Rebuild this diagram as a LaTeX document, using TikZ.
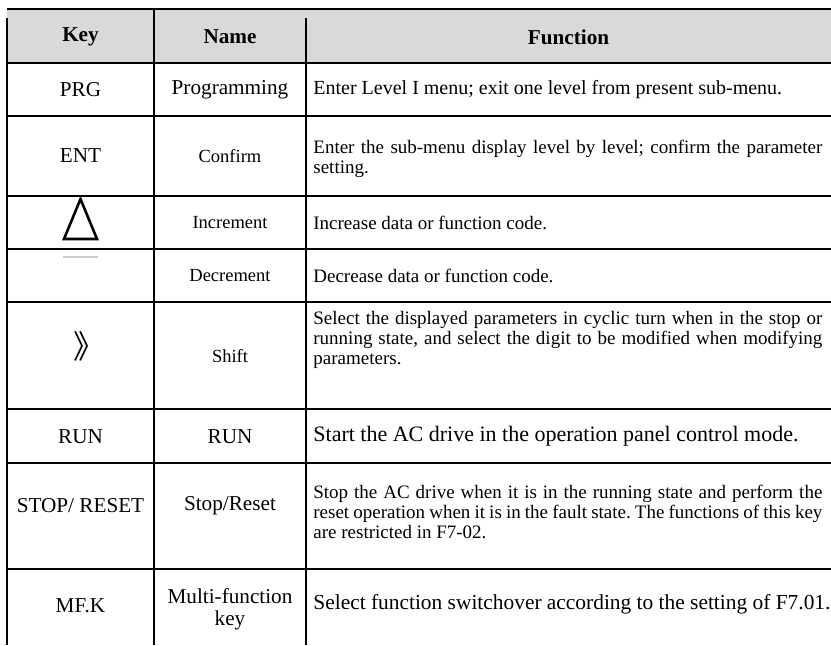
\documentclass[tikz,border=0pt]{standalone}
\usepackage{fontspec}
\setmainfont{Liberation Serif}
\newfontfamily\cjk{Noto Sans CJK SC}
\usepackage{tikz}
\frenchspacing
\hyphenpenalty=10000
\exhyphenpenalty=10000
\definecolor{headgray}{RGB}{217,217,217}
\tikzstyle{rule} = [line width=0.9pt, black]
\tikzstyle{head} = [inner sep=0pt, font=\fontsize{10.6}{11.5}\selectfont\bfseries]
\tikzstyle{cellbig} = [inner sep=0pt, align=center, font=\fontsize{10.6}{11}\selectfont]
\tikzstyle{cellsmall} = [inner sep=0pt, align=center, font=\fontsize{9.25}{10}\selectfont]
\tikzstyle{func} = [inner sep=0pt, anchor=west, text width=254.5pt, align=justify, font=\fontsize{9.5}{9.9}\selectfont]
\tikzstyle{funcbig} = [cellbig, anchor=west]
\tikzstyle{glyph} = [line width=1.3pt, line join=miter]

\begin{document}
\begin{tikzpicture}[x=0.5pt, y=-0.5pt]
	\useasboundingbox (0,0) rectangle (831,645);
	\fill [headgray] (7,9) rectangle (831,63);
	\draw [rule] (7,9) -- (831,9);
	\foreach \y in {63,116,196,249,302,409,463,569}
		\draw [rule] (7,\y) -- (831,\y);
	\draw [rule] (7,18) -- (7,645);
	\draw [rule] (154,9) -- (154,645);
	\draw [rule] (306,18) -- (306,645);

	\node (keyhead) [head] at (80.5,37) {Key};
	\node (namehead) [head] at (230,37) {Name};
	\node (funchead) [head] at (568.5,37) {Function};

	\node (prg) [cellbig] at (80.5,90) {PRG};
	\node (prgname) [cellbig] at (230,90) {Programming};
	\node (prgfunc) [func, font=\fontsize{10}{10.5}\selectfont] at (313,90) {Enter Level I menu; exit one level from present sub-menu.};

	\node (ent) [cellbig] at (80.5,156) {ENT};
	\node (entname) [cellsmall] at (230,156) {Confirm};
	\node (entfunc) [func] at (313,159) {Enter the sub-menu display level by level; confirm the parameter setting.};

	\draw [glyph] (64,239) -- (80.5,199) -- (97,239) -- cycle;
	\node (incname) [cellsmall] at (230,223) {Increment};
	\node (incfunc) [func] at (313,223) {Increase data or function code.};

	\draw [line width=0.8pt, black!20] (63,257) -- (98,257);
	\node (decname) [cellsmall] at (230,276) {Decrement};
	\node (decfunc) [func] at (313,276) {Decrease data or function code.};

	\node (shift) [inner sep=0pt, font=\cjk\fontsize{16}{16}\selectfont] at (89,346) {》};
	\node (shiftname) [cellsmall] at (230,356) {Shift};
	\node (shiftfunc) [func] at (313,340) {Select the displayed parameters in cyclic turn when in the stop or running state, and select the digit to be modified when modifying parameters.};

	\node (run) [cellbig] at (80.5,437) {RUN};
	\node (runname) [cellbig] at (230,437) {RUN};
	\node (runfunc) [funcbig, font=\fontsize{11}{11.5}\selectfont] at (313,436) {Start the AC drive in the operation panel control mode.};

	\node (stop) [cellbig] at (80.5,506) {STOP/ RESET};
	\node (stopname) [cellbig] at (230,506) {Stop/Reset};
	\node (stopfunc) [func] at (313,512) {Stop the AC drive when it is in the running state and perform the reset operation when it is in the fault state. The functions of this key are restricted in F7-02.};

	\node (mfk) [cellbig] at (80.5,606) {MF.K};
	\node (mfkname) [cellbig] at (230,609) {Multi-function\\key};
	\node (mfkfunc) [funcbig, font=\fontsize{10.7}{11}\selectfont] at (313,604) {Select function switchover according to the setting of F7.01.};
\end{tikzpicture}
\end{document}
